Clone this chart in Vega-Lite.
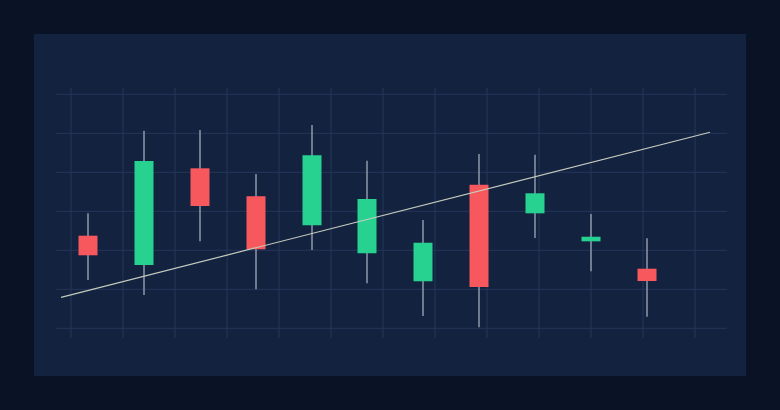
{
  "$schema": "https://vega.github.io/schema/vega-lite/v6.json",
  "width": 712,
  "height": 342,
  "autosize": {"type": "none"},
  "padding": {"left": 34, "top": 34, "right": 34, "bottom": 34},
  "background": "#0a1325",
  "config": {"view": {"fill": "#13223f", "stroke": null}},
  "datasets": {
    "gridx": [{"gx": 37}, {"gx": 89}, {"gx": 141}, {"gx": 193}, {"gx": 245}, {"gx": 297}, {"gx": 349}, {"gx": 401}, {"gx": 453}, {"gx": 505}, {"gx": 557}, {"gx": 609}, {"gx": 661}],
    "gridy": [{"gy": 100}, {"gy": 105}, {"gy": 110}, {"gy": 115}, {"gy": 120}, {"gy": 125}, {"gy": 130}],
    "candles": [
      {"t": 54, "open": 111.87, "high": 114.74, "low": 106.19, "close": 109.36},
      {"t": 110, "open": 108.12, "high": 125.33, "low": 104.27, "close": 121.45},
      {"t": 166, "open": 120.51, "high": 125.42, "low": 111.15, "close": 115.68},
      {"t": 222, "open": 116.92, "high": 119.78, "low": 105.0, "close": 110.13},
      {"t": 278, "open": 113.21, "high": 126.06, "low": 110.04, "close": 122.18},
      {"t": 333, "open": 109.62, "high": 121.49, "low": 105.77, "close": 116.58},
      {"t": 389, "open": 106.03, "high": 113.88, "low": 101.58, "close": 110.97},
      {"t": 445, "open": 118.41, "high": 122.35, "low": 100.13, "close": 105.29},
      {"t": 501, "open": 114.74, "high": 122.26, "low": 111.58, "close": 117.31},
      {"t": 557, "open": 111.15, "high": 114.65, "low": 107.31, "close": 111.74},
      {"t": 613, "open": 107.64, "high": 111.54, "low": 101.49, "close": 106.06}
    ],
    "trend": [{"t": 27, "v": 103.97}, {"t": 676, "v": 125.13}]
  },
  "layer": [
    {
      "data": {"name": "gridx"},
      "mark": {"type": "rule", "color": "#25365a", "strokeWidth": 1},
      "encoding": {
        "x": {"field": "gx", "type": "quantitative", "axis": null, "scale": {"domain": [0, 712], "nice": false, "zero": false, "padding": 0}},
        "y": {"datum": 130.81, "type": "quantitative", "axis": null, "scale": {"domain": [93.885, 137.73], "nice": false, "zero": false, "padding": 0}},
        "y2": {"datum": 98.76}
      }
    },
    {
      "data": {"name": "gridy"},
      "mark": {"type": "rule", "color": "#25365a", "strokeWidth": 1},
      "encoding": {
        "y": {"field": "gy", "type": "quantitative", "axis": null},
        "x": {"datum": 22, "type": "quantitative", "axis": null},
        "x2": {"datum": 693}
      }
    },
    {
      "data": {"name": "candles"},
      "mark": {"type": "rule", "color": "#9099ab", "strokeWidth": 1.5},
      "encoding": {
        "x": {"field": "t", "type": "quantitative", "axis": null},
        "y": {"field": "low", "type": "quantitative", "axis": null},
        "y2": {"field": "high"}
      }
    },
    {
      "data": {"name": "candles"},
      "mark": {"type": "bar", "size": 19},
      "encoding": {
        "x": {"field": "t", "type": "quantitative", "axis": null},
        "y": {"field": "open", "type": "quantitative", "axis": null},
        "y2": {"field": "close"},
        "color": {"condition": {"test": "datum.close > datum.open", "value": "#27d290"}, "value": "#f6585d"}
      }
    },
    {
      "data": {"name": "trend"},
      "mark": {"type": "line", "color": "#c5cbbd", "strokeWidth": 1.2},
      "encoding": {
        "x": {"field": "t", "type": "quantitative", "axis": null},
        "y": {"field": "v", "type": "quantitative", "axis": null}
      }
    }
  ]
}
